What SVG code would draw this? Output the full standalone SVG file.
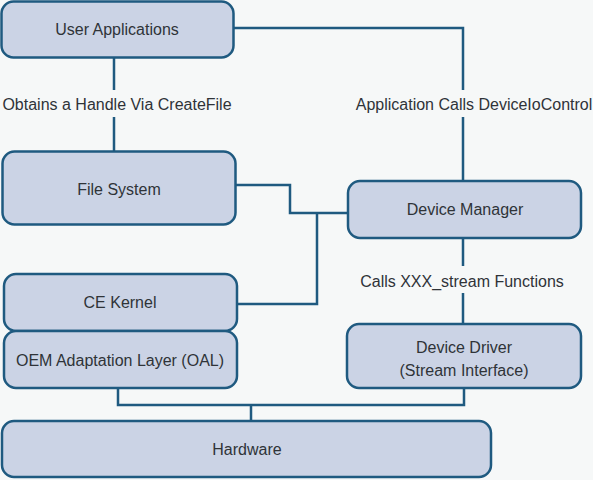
<svg xmlns="http://www.w3.org/2000/svg" width="593" height="480" viewBox="0 0 593 480">
<style>
.box{fill:#cbd3e5;stroke:#1f5a80;stroke-width:2.5}
.ln{fill:none;stroke:#1f5a80;stroke-width:2.5}
text{font-family:"Liberation Sans",Arial,sans-serif;font-size:16px;fill:#2f3338}
.c{text-anchor:middle}
</style>
<rect width="593" height="480" fill="#f6f8f8"/>
<g id="connectors">
<path class="ln" d="M114 58V90M114 117V151"/>
<path class="ln" d="M234 28H463V90M463 117V181"/>
<path class="ln" d="M236 185H290V213H348M317 213V304H238"/>
<path class="ln" d="M463 238V266M463 293V324"/>
<path class="ln" d="M118 388V405H464V389M251 405V421"/>
</g>
<g id="label1"><text x="117" y="110" class="c">Obtains a Handle Via CreateFile</text></g>
<g id="label2"><text x="474" y="110" class="c">Application Calls DeviceIoControl</text></g>
<g id="label3"><text x="462" y="287" class="c">Calls XXX_stream Functions</text></g>
<g id="user-apps"><rect class="box" x="1.5" y="1.5" width="232" height="56" rx="12"/><text x="117" y="35" class="c">User Applications</text></g>
<g id="file-system"><rect class="box" x="2.5" y="151.5" width="233" height="73" rx="12"/><text x="119" y="195" class="c">File System</text></g>
<g id="device-manager"><rect class="box" x="348" y="181" width="233" height="57" rx="12"/><text x="465" y="215" class="c">Device Manager</text></g>
<g id="ce-kernel"><rect class="box" x="4" y="274" width="233" height="57" rx="12"/><text x="120" y="308" class="c">CE Kernel</text></g>
<g id="oal"><rect class="box" x="4" y="331" width="233" height="57" rx="12"/><text x="120" y="366" class="c">OEM Adaptation Layer (OAL)</text></g>
<g id="device-driver"><rect class="box" x="347" y="324" width="234" height="64" rx="12"/><text x="464" y="353" class="c">Device Driver</text><text x="464" y="376" class="c">(Stream Interface)</text></g>
<g id="hardware"><rect class="box" x="2" y="421" width="489" height="56" rx="12"/><text x="247" y="455" class="c">Hardware</text></g>
</svg>
